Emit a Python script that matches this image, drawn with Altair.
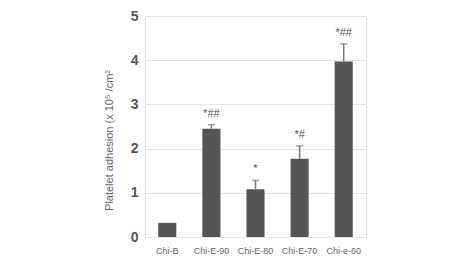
import altair as alt
import pandas as pd

groups = ["Chi-B", "Chi-E-90", "Chi-E-80", "Chi-E-70", "Chi-e-60"]
values = [0.32, 2.45, 1.08, 1.77, 3.97]
errors = [0.0, 0.09, 0.20, 0.29, 0.40]
marks = ["", "*##", "*", "*#", "*##"]

df = pd.DataFrame({
    "group": groups,
    "value": values,
    "err": errors,
    "top": [v + e for v, e in zip(values, errors)],
    "mark": marks,
})

FONT = "Liberation Sans"

x = alt.X("group:N", sort=groups, title=None,
          scale=alt.Scale(paddingInner=0.59, paddingOuter=0.3),
          axis=alt.Axis(labelAngle=0, labelFontSize=9, labelColor="#666",
                        labelFont=FONT, ticks=False, domain=False, labelPadding=9))

y_scale = alt.Scale(domain=[0, 5])

bars = alt.Chart(df).mark_bar(color="#555555").encode(
    x=x,
    y=alt.Y("value:Q", scale=y_scale,
            title="Platelet adhesion (x 10⁵ /cm²",
            axis=alt.Axis(values=[0, 1, 2, 3, 4, 5], labelFontSize=14, labelFontWeight="bold",
                          labelColor="#555", labelFont=FONT, ticks=False, domain=False,
                          labelPadding=7, gridColor="#e3e3e3",
                          titleFont=FONT, titleFontSize=11, titleFontWeight="normal",
                          titleColor="#666", titleX=-36, titleY=124, titleBaseline="middle",
                          titleAngle=-90, titleAlign="center")),
)

err_df = df[df["err"] > 0]

rules = alt.Chart(err_df).mark_rule(color="#777777", strokeWidth=1.5).encode(
    x=alt.X("group:N", sort=groups),
    y=alt.Y("value:Q", scale=y_scale),
    y2="top:Q",
)

caps = alt.Chart(err_df).mark_tick(color="#777777", thickness=1.5, size=7,
                                    orient="horizontal").encode(
    x=alt.X("group:N", sort=groups),
    y=alt.Y("top:Q", scale=y_scale),
)

labels = alt.Chart(df).mark_text(color="#555", fontSize=11, font=FONT, dy=-11).encode(
    x=alt.X("group:N", sort=groups),
    y=alt.Y("top:Q", scale=y_scale),
    text="mark:N",
)

chart = alt.layer(bars, rules, caps, labels).properties(
    width=221, height=221,
    padding={"left": 145, "top": 16, "right": 107, "bottom": 32},
    autosize=alt.AutoSizeParams(type="none"),
).configure_view(stroke="#cccccc", strokeWidth=1).configure(background="white")

chart.save("out.html", embed_options={"renderer": "svg", "actions": False})
